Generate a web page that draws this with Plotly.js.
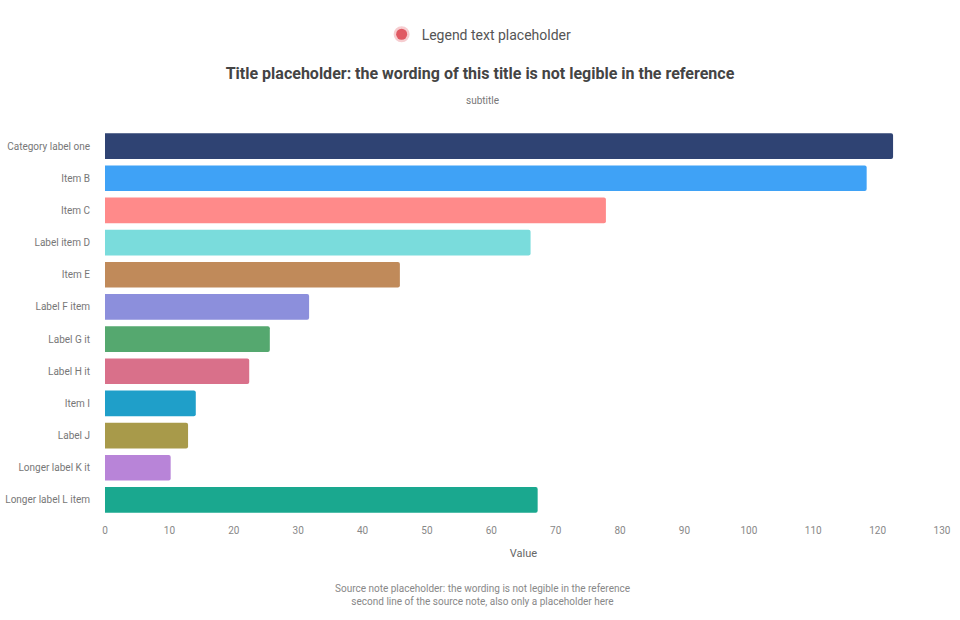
<!DOCTYPE html>
<html><head><meta charset="utf-8">
<script src="https://cdn.plot.ly/plotly-3.0.1.min.js"></script>
<style>html,body{margin:0;padding:0;background:#fff}#c{width:960px;height:620px}</style>
</head><body><div id="c"></div>
<script>
// The reference is too blurred to read its words: labels are neutral placeholders of similar length.
var categories = ["Category label one","Item B","Item C","Label item D","Item E","Label F item","Label G it","Label H it","Item I","Label J","Longer label K it","Longer label L item"];
var values = [122.4,118.3,77.8,66.1,45.8,31.7,25.6,22.4,14.1,12.9,10.2,67.2];
var barColors = ["#2f4373","#3fa2f6","#ff8a8a","#7adcdc","#c08a5a","#8c8fdc","#55a86f","#d9708a","#1f9fc9","#a89a4a","#b884d8","#1aa88f"];
var tickValues = [0,10,20,30,40,50,60,70,80,90,100,110,120,130];
var legendName = "Legend text placeholder";
var titleText = "<b>Title placeholder: the wording of this title is not legible in the reference</b>";
var subtitleText = "subtitle";
var axisTitle = "Value";
var noteText = "Source note placeholder: the wording is not legible in the reference<br>second line of the source note, also only a placeholder here";

Plotly.newPlot("c",[
 {type:"bar",orientation:"h",y:categories,x:values,marker:{color:barColors,cornerradius:2},width:0.8,showlegend:false,hoverinfo:"x+y"},
 {type:"scatter",mode:"markers",x:[null],y:[null],name:legendName,marker:{color:"#e05a63",size:11,symbol:"circle",line:{color:"rgba(224,90,99,0.3)",width:5}},showlegend:true}
],{
 width:960,height:620,paper_bgcolor:"#fff",plot_bgcolor:"#fff",
 font:{family:"Roboto, 'Open Sans', sans-serif",color:"#666",size:10},
 margin:{l:105,r:18,t:130,b:104,pad:0},
 title:{text:titleText,x:0.5,xanchor:"center",y:0.882,yanchor:"middle",font:{size:16,color:"#444"}},
 legend:{orientation:"h",x:0.447,xanchor:"center",y:1.247,yanchor:"middle",font:{size:14,color:"#555"},bgcolor:"rgba(0,0,0,0)"},
 xaxis:{range:[0,130],tickmode:"array",tickvals:tickValues,showgrid:false,zeroline:false,showline:false,ticks:"outside",ticklen:5,tickcolor:"#fff",tickfont:{size:10,color:"#888"},
        title:{text:axisTitle,font:{size:11,color:"#666"},standoff:14}},
 yaxis:{type:"category",autorange:"reversed",showgrid:false,zeroline:false,showline:false,ticks:"outside",ticklen:12,tickcolor:"#fff",tickfont:{size:10,color:"#777"},automargin:false},
 annotations:[
  {xref:"paper",yref:"paper",x:0.4516,xanchor:"center",y:-0.168,yanchor:"top",showarrow:false,align:"center",text:noteText,font:{size:10,color:"#888"}},
  {xref:"paper",yref:"paper",x:0.4516,xanchor:"center",y:1.076,yanchor:"middle",showarrow:false,text:subtitleText,font:{size:10,color:"#777"}}
 ]
},{displayModeBar:false});
</script></body></html>
